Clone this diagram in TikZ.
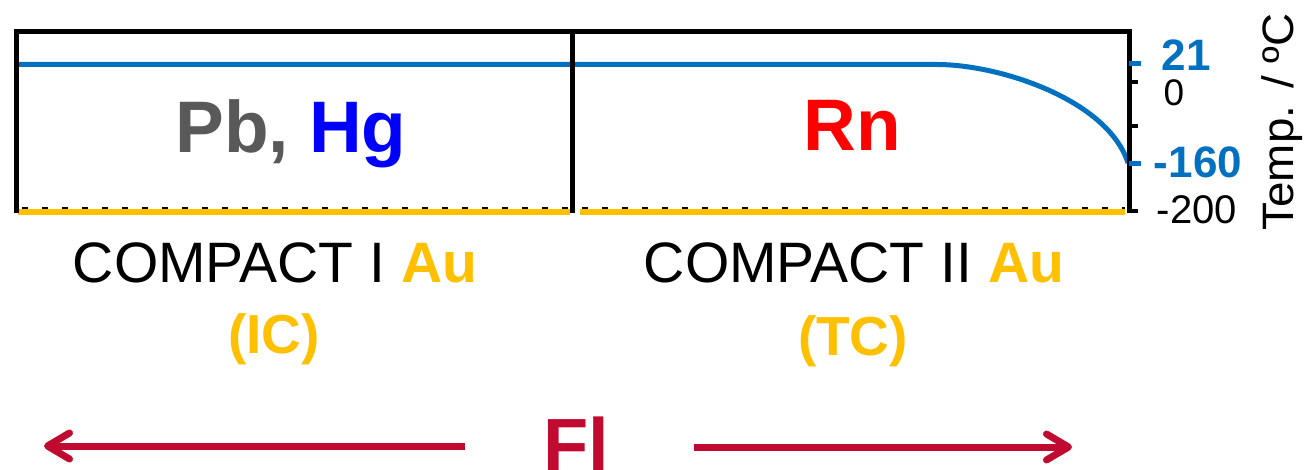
\documentclass[tikz,border=0pt]{standalone}
\usepackage{fontspec}
\setmainfont{Liberation Sans}
\usetikzlibrary{arrows.meta}
\definecolor{leadgray}{HTML}{595959}
\definecolor{hgblue}{HTML}{0000FF}
\definecolor{rnred}{HTML}{FF0000}
\definecolor{gold}{HTML}{FFC000}
\definecolor{tempblue}{HTML}{0070C0}
\definecolor{flred}{HTML}{C00A30}
\tikzset{
  frame/.style={line width=5pt, black},
  tickmark/.style={line width=4pt, black},
  bluetick/.style={line width=5pt, tempblue},
  goldbar/.style={line width=6pt, gold},
  label/.style={inner sep=0pt, anchor=base},
  flarrow/.style={line width=7pt, flred,
    -{Straight Barb[length=22pt,width=26pt,round]}},
}
\begin{document}
\begin{tikzpicture}[x=1pt,y=-1pt]
\useasboundingbox (0,0) rectangle (1310,470);

% detector strip: dotted baseline under the gold surface
\draw[line width=3pt, dash pattern=on 6pt off 14pt] (22,209) -- (1125,209);
\draw[goldbar] (18,212) -- (570,212);
\draw[goldbar] (580,212) -- (1125,212);

% temperature profile
\draw[line width=5pt, tempblue]
  (18,64.5) -- (937,64.5) .. controls (1000,64.5) and (1108,100) .. (1128,163);

% frame of the two detector arrays
\draw[frame] (16,213) -- (16,32) -- (1129,32) -- (1129,211);
\draw[frame] (572.5,32) -- (572.5,213);

% temperature axis ticks
\draw[bluetick] (1129,64) -- (1141,64);
\draw[tickmark] (1129,82) -- (1138,82);
\draw[tickmark] (1129,126) -- (1138,126);
\draw[bluetick] (1129,164) -- (1141,164);
\draw[tickmark] (1127,211) -- (1138,211);

% axis labels
\node[label, font=\fontsize{44}{44}\selectfont\bfseries, text=tempblue] (t21) at (1186,71) {21};
\node[label, font=\fontsize{37}{37}\selectfont] (t0) at (1174,106) {0};
\node[label, font=\fontsize{44}{44}\selectfont\bfseries, text=tempblue] (t160) at (1198,178) {-160};
\node[label, font=\fontsize{40}{40}\selectfont] (t200) at (1197,224) {-200};
\node[inner sep=0pt, anchor=base, rotate=90, xscale=1.04,
      font=\fontsize{44}{44}\selectfont] (taxis) at (1293,122) {Temp. / ºC};

% elements in each array
\node[label, font=\fontsize{73}{73}\selectfont\bfseries] (pbhg) at (291,153)
  {\textcolor{leadgray}{Pb,} \textcolor{hgblue}{Hg}};
\node[label, font=\fontsize{73}{73}\selectfont\bfseries, text=rnred] (rn) at (852,151) {Rn};

% array names
\node[label, font=\fontsize{57}{57}\selectfont] (c1) at (275,283)
  {COMPACT I \textcolor{gold}{\bfseries Au}};
\node[label, font=\fontsize{55}{55}\selectfont\bfseries, text=gold] (ic) at (274,354) {(IC)};
\node[label, font=\fontsize{57}{57}\selectfont] (c2) at (854,283)
  {COMPACT II \textcolor{gold}{\bfseries Au}};
\node[label, font=\fontsize{55}{55}\selectfont\bfseries, text=gold] (tc) at (853,356) {(TC)};

% flerovium and its two possible directions
\node[label, font=\fontsize{74}{74}\selectfont\bfseries, text=flred] (fl) at (576,470) {Fl};
\coordinate (lstart) at (465,446);
\coordinate (ltip) at (44,446);
\coordinate (rstart) at (694,447);
\coordinate (rtip) at (1072,447);
\draw[flarrow] (lstart) -- (ltip);
\draw[flarrow] (rstart) -- (rtip);
\end{tikzpicture}
\end{document}
